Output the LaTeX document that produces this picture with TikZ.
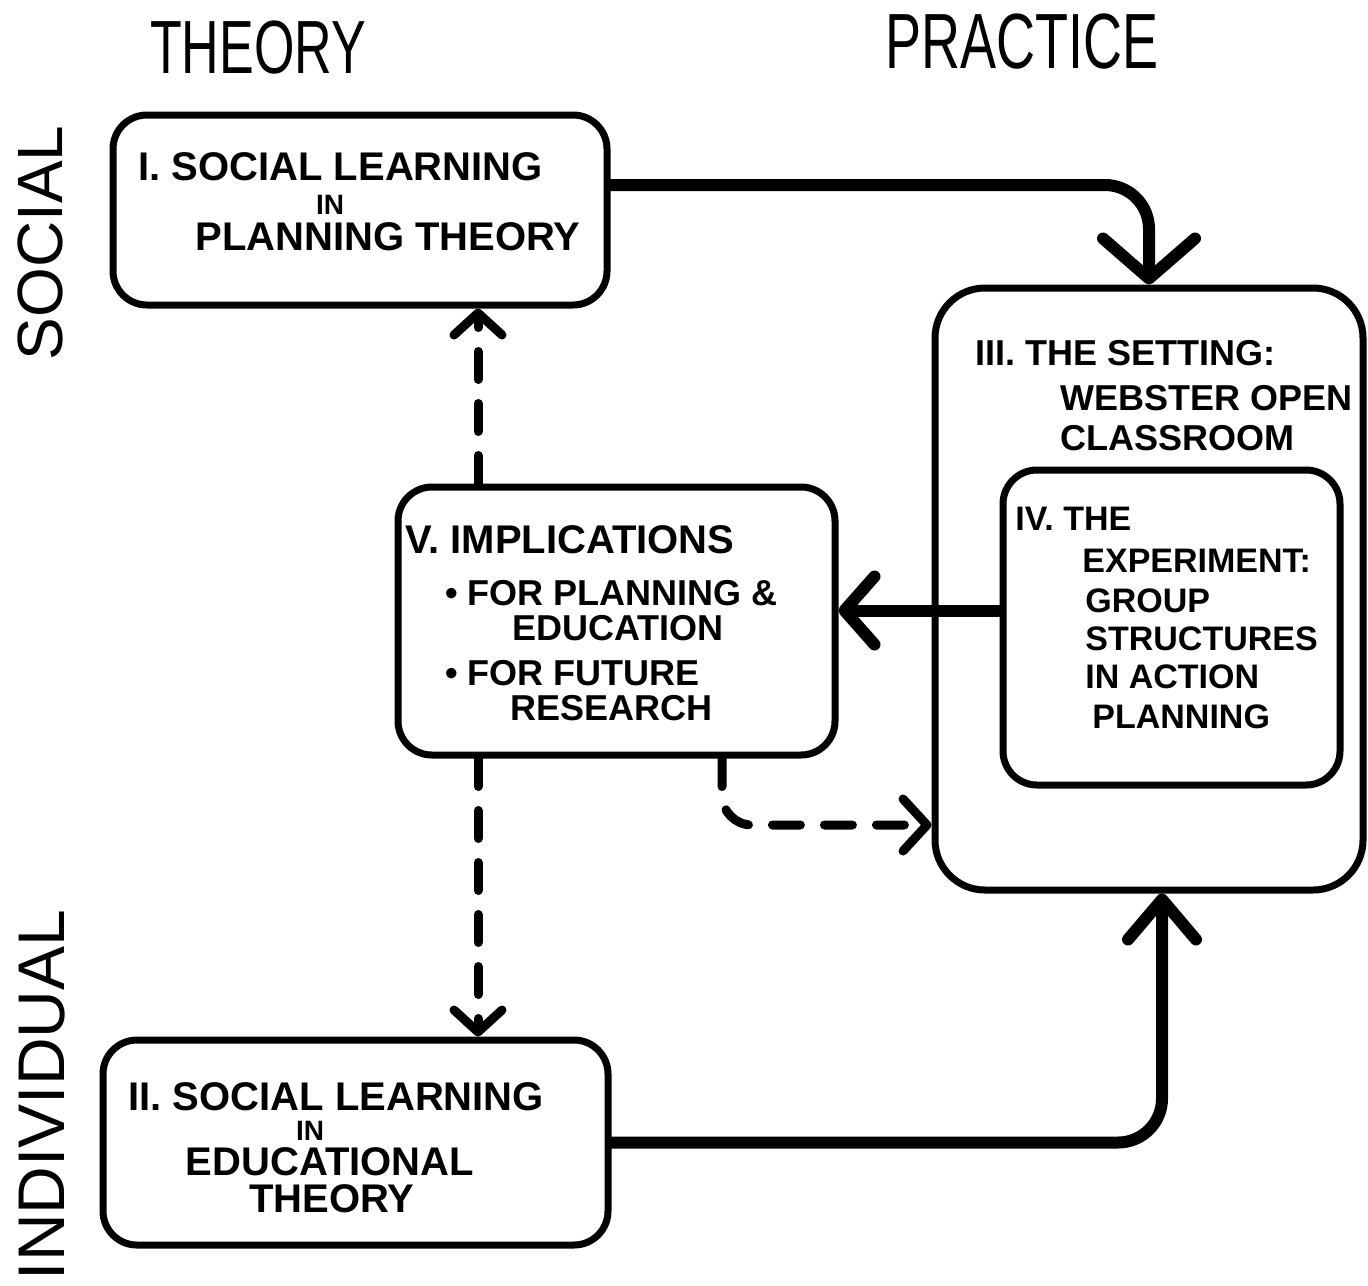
\documentclass[tikz,border=0pt]{standalone}
\usepackage{fontspec}
\setmainfont{Liberation Sans}
\usepackage{graphicx}
\usetikzlibrary{arrows.meta}
\tikzset{
  box/.style={draw, line width=3.5pt, rounded corners=17pt, inner sep=0pt},
  conn/.style={line width=6pt, line cap=round, line join=round},
  dconn/.style={line width=4.5pt, line cap=round, dash pattern=on 14pt off 12pt},
  titletxt/.style={font=\fontsize{26}{30}\selectfont, inner sep=0pt},
  sidetxt/.style={font=\fontsize{32}{36}\selectfont, inner sep=0pt},
  btxt/.style={font=\bfseries\fontsize{20}{24}\selectfont, inner sep=0pt},
  mtxt/.style={font=\bfseries\fontsize{18}{22}\selectfont, inner sep=0pt},
  ntxt/.style={font=\bfseries\fontsize{17}{20}\selectfont, inner sep=0pt},
  stxt/.style={font=\bfseries\fontsize{14}{16}\selectfont, inner sep=0pt}
}
\begin{document}
\begin{tikzpicture}[x=0.5pt,y=-0.5pt]
\fill[white] (0,0) rectangle (1368,1285);
\useasboundingbox (0,0) rectangle (1368,1285);

% headings
\node[titletxt] (tTheory) at (258,48) {\scalebox{1}[1.45]{THEORY}};
\node[titletxt, font=\fontsize{27}{30}\selectfont] (tPractice) at (1022,42) {\scalebox{1}[1.45]{PRACTICE}};
\node[sidetxt, rotate=90] (tSocial) at (40,243) {SOCIAL};
\node[sidetxt, font=\fontsize{33}{36}\selectfont, rotate=90] (tIndiv) at (42,1095) {INDIVIDUAL};

% boxes
\node[box, minimum width=247pt, minimum height=95pt] (b1) at (360,210) {};
\node[box, minimum width=252.5pt, minimum height=102.5pt] (b2) at (355.5,1142.5) {};
\node[box, rounded corners=25pt, minimum width=214pt, minimum height=301pt] (b3) at (1149,589) {};
\node[box, minimum width=168.5pt, minimum height=157.5pt] (b4) at (1171.5,627.5) {};
\node[box, minimum width=218.5pt, minimum height=134pt] (b5) at (616.5,621) {};

% box I text
\node[btxt, anchor=base west] (t1a) at (138,180) {I. SOCIAL LEARNING};
\node[stxt, anchor=base] (t1b) at (330,214) {IN};
\node[btxt, anchor=base west] (t1c) at (195,250) {PLANNING THEORY};

% box II text
\node[btxt, anchor=base west] (t2a) at (128,1110) {II. SOCIAL LEARNING};
\node[stxt, anchor=base] (t2b) at (310,1140) {IN};
\node[btxt, anchor=base] (t2c) at (330,1175) {EDUCATIONAL};
\node[btxt, anchor=base] (t2d) at (332,1212) {THEORY};

% box III text
\node[mtxt, anchor=base west] (t3a) at (975,365) {III. THE SETTING:};
\node[mtxt, anchor=base west] (t3b) at (1060,410) {WEBSTER OPEN};
\node[mtxt, anchor=base west] (t3c) at (1060,450) {CLASSROOM};

% box IV text
\node[ntxt, anchor=base west] (t4a) at (1015,530) {IV. THE};
\node[ntxt, anchor=base west] (t4b) at (1082,572) {EXPERIMENT:};
\node[ntxt, anchor=base west] (t4c) at (1085,612) {GROUP};
\node[ntxt, anchor=base west] (t4d) at (1085,650) {STRUCTURES};
\node[ntxt, anchor=base west] (t4e) at (1085,688) {IN ACTION};
\node[ntxt, anchor=base west] (t4f) at (1092,728) {PLANNING};

% box V text
\node[btxt, anchor=base west] (t5a) at (405,553) {V. IMPLICATIONS};
\node[mtxt, anchor=base west] (t5b) at (445,605) {• FOR PLANNING \&};
\node[mtxt, anchor=base west] (t5c) at (512,640) {EDUCATION};
\node[mtxt, anchor=base west] (t5d) at (445,685) {• FOR FUTURE};
\node[mtxt, anchor=base west] (t5e) at (510,720) {RESEARCH};

% solid connectors
\draw[conn, rounded corners=22pt, -{Straight Barb[length=20pt,width=46pt,round]}]
  ([yshift=12.5pt]b1.east) -| (b3.north);
\draw[conn, rounded corners=22pt, -{Straight Barb[length=20pt,width=34pt,round]}]
  (b2.east) -| ([xshift=6.5pt]b3.south);
\coordinate (p4) at ([yshift=8.5pt]b4.west);
\draw[conn, -{Straight Barb[length=15pt,width=34pt,round]}] (p4) -- (p4 -| b5.east);

% dashed connectors
\coordinate (dx) at (478,0);
\draw[dconn, -{Straight Barb[length=11pt,width=24pt,round]}] (dx |- b5.north) -- (dx |- b1.south);
\draw[dconn, -{Straight Barb[length=11pt,width=24pt,round]}] (dx |- b5.south) -- (dx |- b2.north);
\coordinate (dy) at (722,825);
\draw[dconn, rounded corners=15pt, -{Straight Barb[length=12pt,width=26pt,round]}]
  (dy |- b5.south) |- (dy -| b3.west);
\end{tikzpicture}
\end{document}
